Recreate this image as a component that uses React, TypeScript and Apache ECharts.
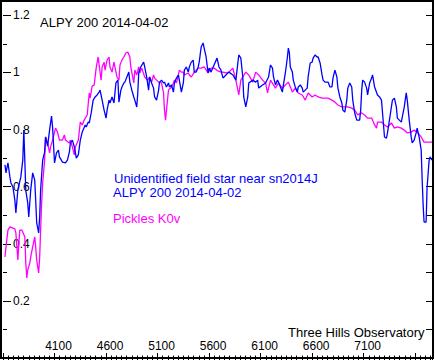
import React, { useEffect, useRef } from "react";
import * as echarts from "echarts";

// Observed spectrum (blue): wavelength (Å) and relative flux
const blueWave = [3619,3629,3648,3667,3677,3696,3715,3725,3744,3773,3792,3802,3821,3840,3850,3869,3888,3908,3917,3927,3946,3956,3965,3985,4004,4013,4033,4052,4071,4081,4100,4119,4138,4148,4177,4206,4225,4244,4254,4273,4292,4312,4331,4350,4369,4398,4408,4427,4437,4456,4475,4494,4513,4533,4542,4562,4581,4600,4610,4629,4638,4658,4677,4686,4696,4715,4725,4744,4754,4773,4783,4802,4821,4831,4850,4869,4879,4898,4908,4917,4936,4965,4975,4994,5013,5023,5042,5061,5071,5090,5110,5119,5138,5158,5167,5186,5206,5215,5235,5254,5263,5283,5302,5311,5331,5350,5360,5379,5398,5408,5427,5446,5456,5475,5494,5504,5523,5542,5552,5571,5590,5600,5619,5648,5677,5696,5715,5735,5763,5792,5831,5860,5879,5888,5908,5927,5936,5956,5975,5985,6023,6052,6071,6081,6119,6148,6177,6196,6215,6225,6244,6263,6273,6311,6321,6340,6360,6369,6379,6388,6408,6417,6436,6456,6465,6485,6504,6513,6552,6561,6581,6600,6609,6629,6648,6658,6677,6696,6706,6725,6754,6773,6792,6802,6821,6840,6850,6869,6888,6898,6917,6936,6946,6965,6984,6994,7013,7033,7061,7071,7081,7090,7109,7129,7138,7158,7177,7186,7206,7234,7254,7273,7283,7302,7321,7331,7350,7369,7379,7398,7417,7427,7446,7465,7475,7494,7513,7523,7542,7561,7571,7590,7609,7619,7638,7658,7667,7677,7686,7706,7715,7735,7744,7763];
const blueFlux = [0.676,0.648,0.683,0.634,0.613,0.599,0.553,0.508,0.588,0.634,0.693,0.798,0.588,0.543,0.494,0.588,0.648,0.623,0.553,0.473,0.438,0.494,0.588,0.693,0.721,0.774,0.742,0.798,0.847,0.809,0.683,0.718,0.728,0.704,0.686,0.683,0.693,0.721,0.753,0.763,0.739,0.700,0.711,0.763,0.791,0.816,0.809,0.826,0.823,0.858,0.903,0.914,0.921,0.931,0.938,0.903,0.868,0.840,0.868,0.903,0.893,0.914,0.893,0.928,0.963,0.973,0.896,0.938,0.949,0.963,0.966,0.984,1.001,0.966,0.938,0.914,0.903,0.879,0.928,0.998,1.019,1.036,1.019,0.984,0.938,0.984,0.963,0.945,0.914,0.903,0.938,0.966,0.973,0.963,0.966,0.949,0.963,0.949,0.956,0.931,0.963,0.980,0.991,0.973,0.931,0.963,1.008,1.019,1.001,1.019,1.036,1.043,1.001,1.001,1.019,1.036,1.089,1.103,1.085,1.054,0.998,1.015,1.001,1.026,1.050,1.019,1.008,0.980,0.991,1.001,0.991,0.973,1.033,1.061,1.050,0.984,0.914,0.879,0.914,0.963,0.973,0.966,0.973,0.945,0.956,0.963,0.984,1.026,1.015,0.984,0.956,0.973,0.966,0.931,0.956,0.998,1.054,1.085,1.068,1.019,1.001,0.973,0.949,0.931,0.949,0.956,0.945,0.931,0.945,0.984,1.033,1.036,1.050,1.061,1.054,1.054,1.033,0.991,0.973,0.966,0.966,0.949,0.949,0.980,1.008,0.984,0.945,0.914,0.893,0.868,0.861,0.903,0.945,0.963,0.949,0.903,0.858,0.833,0.833,0.868,0.938,0.973,0.966,0.945,0.921,0.963,0.980,0.991,0.949,0.921,0.914,0.903,0.858,0.774,0.770,0.788,0.833,0.879,0.903,0.910,0.879,0.840,0.833,0.826,0.844,0.879,0.928,0.903,0.833,0.774,0.753,0.763,0.788,0.805,0.774,0.728,0.630,0.536,0.476,0.476,0.595,0.693,0.704,0.693];

// Pickles K0v template (magenta)
const pickWave = [3619,3629,3648,3667,3696,3715,3725,3744,3754,3763,3783,3812,3821,3831,3840,3860,3869,3888,3908,3917,3927,3946,3956,3965,3975,3985,4004,4013,4033,4052,4062,4081,4110,4129,4148,4177,4196,4206,4244,4254,4273,4292,4302,4331,4350,4369,4388,4417,4437,4446,4465,4485,4504,4523,4533,4552,4562,4581,4590,4610,4629,4638,4658,4677,4686,4706,4725,4735,4754,4773,4792,4811,4831,4840,4869,4879,4898,4917,4927,4946,4975,5004,5023,5042,5061,5071,5110,5138,5158,5167,5177,5196,5206,5235,5254,5263,5283,5302,5311,5331,5350,5360,5398,5408,5427,5456,5494,5523,5552,5590,5619,5648,5686,5715,5735,5763,5792,5831,5840,5860,5879,5888,5908,5927,5956,5985,6023,6052,6081,6119,6148,6167,6177,6196,6225,6244,6273,6311,6340,6369,6408,6436,6465,6504,6533,6561,6600,6629,6658,6696,6725,6754,6792,6821,6850,6888,6917,6946,6984,7013,7042,7081,7109,7138,7177,7206,7225,7234,7273,7302,7331,7369,7398,7427,7465,7494,7523,7561,7590,7619,7658,7686,7715,7763];
const pickFlux = [0.354,0.389,0.448,0.459,0.455,0.452,0.438,0.343,0.403,0.448,0.448,0.424,0.333,0.280,0.308,0.333,0.354,0.389,0.424,0.389,0.343,0.298,0.354,0.448,0.543,0.613,0.693,0.774,0.753,0.718,0.739,0.763,0.805,0.791,0.763,0.763,0.781,0.763,0.753,0.763,0.739,0.711,0.739,0.763,0.826,0.816,0.833,0.851,0.928,0.910,0.952,0.956,1.015,1.054,1.026,0.973,1.019,1.036,1.008,1.043,1.054,1.019,1.001,1.036,1.019,0.984,0.973,1.026,1.043,1.054,1.068,1.071,1.054,1.019,0.963,1.008,0.991,1.019,0.998,1.015,0.984,0.973,0.984,0.966,0.991,0.980,0.966,0.963,0.928,0.868,0.833,0.903,0.938,0.949,0.963,0.973,0.963,0.991,1.008,1.001,1.001,0.991,0.998,0.991,0.984,1.001,1.015,1.015,1.019,0.998,1.015,1.015,1.005,1.001,1.001,0.998,1.001,1.015,1.001,0.973,0.938,0.921,0.973,0.984,1.001,0.991,0.966,1.001,0.991,0.973,0.963,0.928,0.945,0.973,0.956,0.945,0.963,0.945,0.956,0.966,0.931,0.945,0.928,0.921,0.903,0.928,0.914,0.921,0.914,0.910,0.910,0.910,0.903,0.896,0.886,0.879,0.879,0.879,0.875,0.868,0.851,0.858,0.851,0.840,0.840,0.816,0.805,0.826,0.826,0.816,0.809,0.823,0.805,0.809,0.805,0.798,0.788,0.791,0.798,0.791,0.774,0.756,0.756,0.756];

const xLabelValues = [4100, 4600, 5100, 5600, 6100, 6600, 7100];
const yLabelValues = [0.2, 0.4, 0.6, 0.8, 1, 1.2];

const titleText = "ALPY 200 2014-04-02";
const blueLegend1 = "Unidentified field star near sn2014J";
const blueLegend2 = "ALPY 200 2014-04-02";
const pickLegend = "Pickles K0v";
const creditText = "Three Hills Observatory";

const FONT = '"Liberation Sans", Arial, sans-serif';
const BLUE = "#0000ff";
const MAGENTA = "#ff00ff";

export default function App() {
  const ref = useRef<HTMLDivElement>(null);
  useEffect(() => {
    document.body.style.margin = "0";
    const chart = echarts.init(ref.current!, undefined, { renderer: "svg" });
    const blueData = blueWave.map((w, i) => [w, blueFlux[i]]);
    const pickData = pickWave.map((w, i) => [w, pickFlux[i]]);
    const xMin = 3600;
    const xMax = 7763;
    const yMin = 0;
    const yMax = 1.25;
    chart.setOption({
      animation: false,
      backgroundColor: "#ffffff",
      grid: { left: 0, right: 2, top: 1, bottom: 2, containLabel: false },
      xAxis: [
        {
          type: "value",
          position: "bottom",
          min: xMin,
          max: xMax,
          interval: 500,
          axisLine: { show: false },
          splitLine: { show: false },
          axisTick: { show: true, inside: true, length: 5, lineStyle: { color: "#000", width: 1 } },
          minorTick: { show: true, splitNumber: 10, length: 2.5, lineStyle: { color: "#000", width: 1 } },
          axisLabel: {
            show: true,
            inside: true,
            margin: 6,
            color: "#000",
            fontFamily: FONT,
            fontSize: 12,
            padding: [0, 0, 0, 8],
            formatter: (v: number) => (xLabelValues.includes(Math.round(v)) ? String(Math.round(v)) : ""),
          },
        },
        {
          type: "value",
          position: "top",
          min: xMin,
          max: xMax,
          interval: 500,
          axisLine: { show: false },
          splitLine: { show: false },
          axisTick: { show: true, inside: true, length: 4, lineStyle: { color: "#000", width: 1 } },
          minorTick: { show: true, splitNumber: 10, length: 3, lineStyle: { color: "#000", width: 1 } },
          axisLabel: { show: false },
        },
      ],
      yAxis: [
        {
          type: "value",
          position: "left",
          min: yMin,
          max: yMax,
          interval: 0.2,
          axisLine: { show: false },
          splitLine: { show: false },
          axisTick: { show: true, inside: true, length: 8, lineStyle: { color: "#000", width: 1 } },
          minorTick: { show: true, splitNumber: 2, length: 4, lineStyle: { color: "#000", width: 1 } },
          axisLabel: {
            show: true,
            inside: true,
            margin: 10,
            color: "#000",
            fontFamily: FONT,
            fontSize: 12,
            formatter: (v: number) => {
              const r = Math.round(v * 10) / 10;
              return yLabelValues.includes(r) ? String(r) : "";
            },
          },
        },
        {
          type: "value",
          position: "right",
          min: yMin,
          max: yMax,
          interval: 0.1,
          axisLine: { show: false },
          splitLine: { show: false },
          axisTick: { show: true, inside: true, length: 6, lineStyle: { color: "#000", width: 1 } },
          axisLabel: { show: false },
        },
      ],
      series: [
        {
          type: "line",
          data: pickData,
          xAxisIndex: 0,
          yAxisIndex: 0,
          showSymbol: false,
          symbol: "none",
          lineStyle: { color: MAGENTA, width: 1.3 },
          z: 2,
        },
        {
          type: "line",
          data: blueData,
          xAxisIndex: 0,
          yAxisIndex: 0,
          showSymbol: false,
          symbol: "none",
          lineStyle: { color: BLUE, width: 1.3 },
          z: 3,
        },
      ],
      graphic: [
        {
          type: "rect",
          shape: { x: 1, y: 1, width: 432, height: 357 },
          style: { fill: "none", stroke: "#000", lineWidth: 2 },
          z: 100,
          silent: true,
        },
        {
          type: "text",
          x: 40,
          y: 22.5,
          style: { text: titleText, fill: "#000", font: `13px ${FONT}`, textVerticalAlign: "middle" },
          z: 50,
        },
        {
          type: "text",
          x: 114,
          y: 178,
          style: { text: blueLegend1, fill: BLUE, font: `13px ${FONT}`, textVerticalAlign: "middle" },
          z: 50,
        },
        {
          type: "text",
          x: 113,
          y: 192,
          style: { text: blueLegend2, fill: BLUE, font: `13px ${FONT}`, textVerticalAlign: "middle" },
          z: 50,
        },
        {
          type: "text",
          x: 113,
          y: 218,
          style: { text: pickLegend, fill: MAGENTA, font: `13px ${FONT}`, textVerticalAlign: "middle" },
          z: 50,
        },
        {
          type: "text",
          x: 288,
          y: 332,
          style: { text: creditText, fill: "#000", font: `13px ${FONT}`, textVerticalAlign: "middle" },
          z: 50,
        },
      ],
    });
    return () => chart.dispose();
  }, []);
  return <div ref={ref} style={{ width: 435, height: 360 }} />;
}
